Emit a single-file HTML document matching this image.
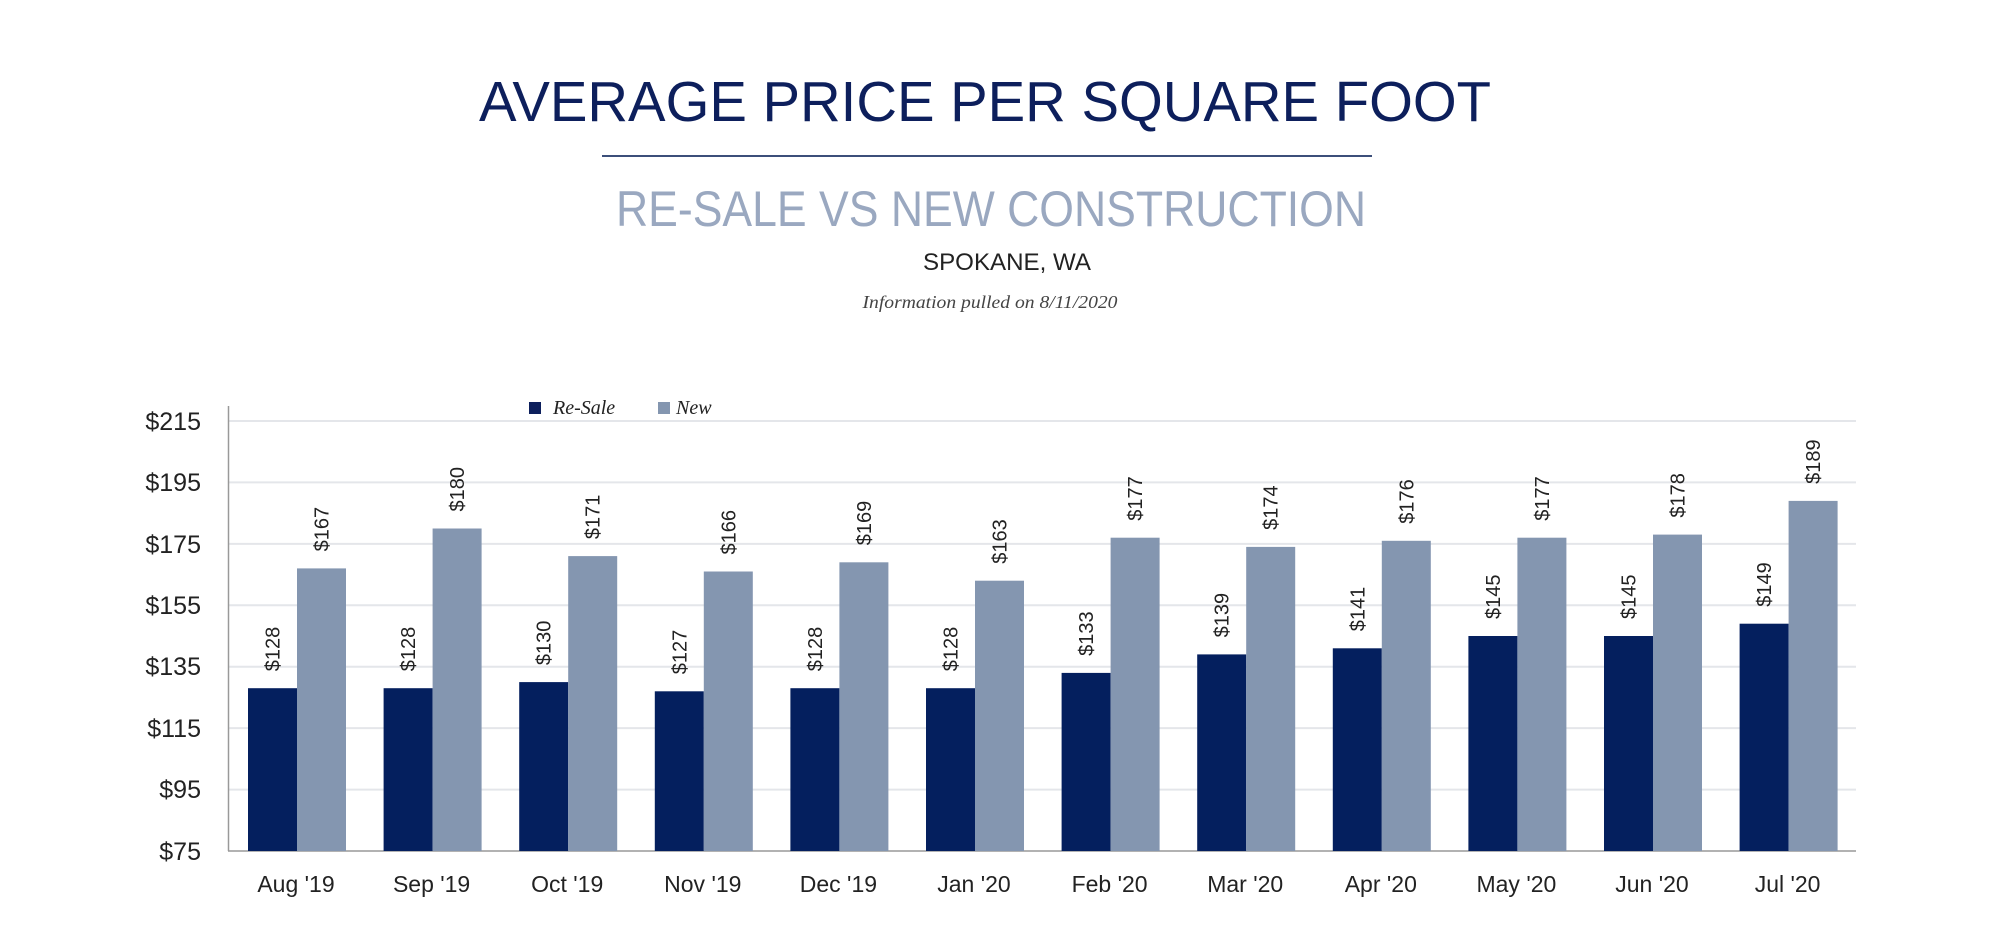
<!DOCTYPE html>
<html><head><meta charset="utf-8"><style>
html,body{margin:0;padding:0;background:#fff;width:2000px;height:948px;overflow:hidden}
</style></head><body>
<svg width="2000" height="948" viewBox="0 0 2000 948" xmlns="http://www.w3.org/2000/svg">
<rect width="2000" height="948" fill="#fff"/>
<text x="985" y="121" text-anchor="middle" font-family="Liberation Sans, sans-serif" font-size="57" fill="#0d1f5c" textLength="1012" lengthAdjust="spacingAndGlyphs">AVERAGE PRICE PER SQUARE FOOT</text>
<rect x="602" y="155" width="770" height="2" fill="#3c4f7a"/>
<text x="991" y="226" text-anchor="middle" font-family="Liberation Sans, sans-serif" font-size="50" fill="#9aa8c0" textLength="750" lengthAdjust="spacingAndGlyphs">RE-SALE VS NEW CONSTRUCTION</text>
<text x="1007" y="270" text-anchor="middle" font-family="Liberation Sans, sans-serif" font-size="24" fill="#222" textLength="168" lengthAdjust="spacingAndGlyphs">SPOKANE, WA</text>
<text x="990" y="308" text-anchor="middle" font-family="Liberation Serif, serif" font-style="italic" font-size="18" fill="#444" textLength="255" lengthAdjust="spacingAndGlyphs">Information pulled on 8/11/2020</text>
<g stroke="#e4e6ea" stroke-width="2">
<line x1="228" x2="1856" y1="421" y2="421"/><line x1="228" x2="1856" y1="482.4" y2="482.4"/>
<line x1="228" x2="1856" y1="543.9" y2="543.9"/><line x1="228" x2="1856" y1="605.3" y2="605.3"/>
<line x1="228" x2="1856" y1="666.7" y2="666.7"/><line x1="228" x2="1856" y1="728.1" y2="728.1"/>
<line x1="228" x2="1856" y1="789.6" y2="789.6"/>
</g>
<line x1="228.5" x2="228.5" y1="406" y2="851" stroke="#999" stroke-width="1.5"/>
<line x1="228" x2="1856" y1="851" y2="851" stroke="#999" stroke-width="1.5"/>
<g font-family="Liberation Sans, sans-serif" font-size="25" fill="#222" text-anchor="end">
<text x="201" y="430">$215</text><text x="201" y="491">$195</text><text x="201" y="553">$175</text>
<text x="201" y="614">$155</text><text x="201" y="675">$135</text><text x="201" y="737">$115</text>
<text x="201" y="798">$95</text><text x="201" y="860">$75</text>
</g>
<rect x="529" y="402" width="12" height="12" fill="#0d1f5c"/>
<text x="553" y="414" font-family="Liberation Serif, serif" font-style="italic" font-size="20" fill="#222">Re-Sale</text>
<rect x="658" y="402" width="12" height="12" fill="#8496b0"/>
<text x="676" y="414" font-family="Liberation Serif, serif" font-style="italic" font-size="20" fill="#222">New</text>

<g fill="#041f5e">
<rect x="248" y="688.2" width="49" height="162.8"/>
<rect x="383.6" y="688.2" width="49" height="162.8"/>
<rect x="519.2" y="682.1" width="49" height="168.9"/>
<rect x="654.8" y="691.3" width="49" height="159.7"/>
<rect x="790.4" y="688.2" width="49" height="162.8"/>
<rect x="926" y="688.2" width="49" height="162.8"/>
<rect x="1061.6" y="672.9" width="49" height="178.1"/>
<rect x="1197.2" y="654.4" width="49" height="196.6"/>
<rect x="1332.8" y="648.3" width="49" height="202.7"/>
<rect x="1468.4" y="636.0" width="49" height="215"/>
<rect x="1604" y="636.0" width="49" height="215"/>
<rect x="1739.6" y="623.7" width="49" height="227.3"/>
</g>
<g fill="#8496b0">
<rect x="297" y="568.4" width="49" height="282.6"/>
<rect x="432.6" y="528.5" width="49" height="322.5"/>
<rect x="568.2" y="556.1" width="49" height="294.9"/>
<rect x="703.8" y="571.5" width="49" height="279.5"/>
<rect x="839.4" y="562.3" width="49" height="288.7"/>
<rect x="975" y="580.7" width="49" height="270.3"/>
<rect x="1110.6" y="537.7" width="49" height="313.3"/>
<rect x="1246.2" y="546.9" width="49" height="304.1"/>
<rect x="1381.8" y="540.8" width="49" height="310.2"/>
<rect x="1517.4" y="537.7" width="49" height="313.3"/>
<rect x="1653" y="534.6" width="49" height="316.4"/>
<rect x="1788.6" y="500.9" width="49" height="350.1"/>
</g>
<g font-family="Liberation Sans, sans-serif" font-size="20" fill="#222">
<text transform="translate(279.5,671.2) rotate(-90)">$128</text>
<text transform="translate(415.1,671.2) rotate(-90)">$128</text>
<text transform="translate(550.7,665.1) rotate(-90)">$130</text>
<text transform="translate(686.3,674.3) rotate(-90)">$127</text>
<text transform="translate(821.9,671.2) rotate(-90)">$128</text>
<text transform="translate(957.5,671.2) rotate(-90)">$128</text>
<text transform="translate(1093.1,655.9) rotate(-90)">$133</text>
<text transform="translate(1228.7,637.4) rotate(-90)">$139</text>
<text transform="translate(1364.3,631.3) rotate(-90)">$141</text>
<text transform="translate(1499.9,619.0) rotate(-90)">$145</text>
<text transform="translate(1635.5,619.0) rotate(-90)">$145</text>
<text transform="translate(1771.1,606.7) rotate(-90)">$149</text>
<text transform="translate(328.5,551.4) rotate(-90)">$167</text>
<text transform="translate(464.1,511.5) rotate(-90)">$180</text>
<text transform="translate(599.7,539.1) rotate(-90)">$171</text>
<text transform="translate(735.3,554.5) rotate(-90)">$166</text>
<text transform="translate(870.9,545.3) rotate(-90)">$169</text>
<text transform="translate(1006.5,563.7) rotate(-90)">$163</text>
<text transform="translate(1142.1,520.7) rotate(-90)">$177</text>
<text transform="translate(1277.7,529.9) rotate(-90)">$174</text>
<text transform="translate(1413.3,523.8) rotate(-90)">$176</text>
<text transform="translate(1548.9,520.7) rotate(-90)">$177</text>
<text transform="translate(1684.5,517.6) rotate(-90)">$178</text>
<text transform="translate(1820.1,483.9) rotate(-90)">$189</text>
</g>
<g font-family="Liberation Sans, sans-serif" font-size="23" fill="#222" text-anchor="middle">
<text x="296" y="892">Aug '19</text>
<text x="431.6" y="892">Sep '19</text>
<text x="567.2" y="892">Oct '19</text>
<text x="702.8" y="892">Nov '19</text>
<text x="838.4" y="892">Dec '19</text>
<text x="974" y="892">Jan '20</text>
<text x="1109.6" y="892">Feb '20</text>
<text x="1245.2" y="892">Mar '20</text>
<text x="1380.8" y="892">Apr '20</text>
<text x="1516.4" y="892">May '20</text>
<text x="1652" y="892">Jun '20</text>
<text x="1787.6" y="892">Jul '20</text>
</g>
</svg>
</body></html>
